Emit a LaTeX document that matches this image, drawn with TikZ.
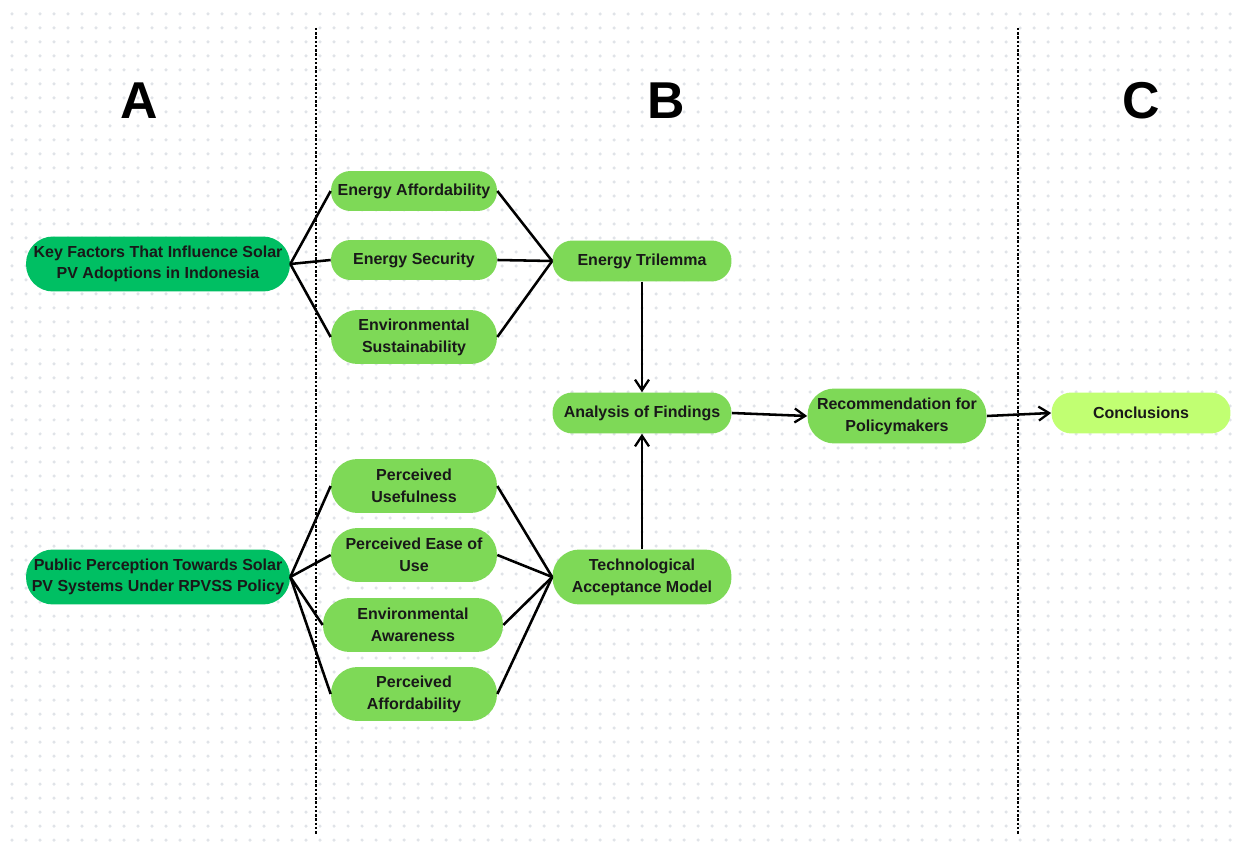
\documentclass[tikz,border=0pt]{standalone}
\usepackage{fontspec}
\setmainfont{Liberation Sans}
\usepackage{tikz}
\usetikzlibrary{arrows.meta}
\usepackage{xcolor}
\definecolor{keygreen}{HTML}{00BF63}
\definecolor{boxgreen}{HTML}{7ED957}
\definecolor{limegreen}{HTML}{C1FF72}
\definecolor{dotgray}{HTML}{E0E3E8}
\tikzset{
  pill/.style={draw=none, align=center, inner sep=0pt, text=black!90,
    font=\fontsize{9.1}{12.6}\selectfont\bfseries},
  keybox/.style={pill, fill=keygreen, minimum width=5.28cm, minimum height=1.1cm, rounded corners=0.54cm,
    font=\fontsize{9.1}{11.9}\selectfont\bfseries},
  factor/.style={pill, fill=boxgreen, minimum width=3.32cm, minimum height=0.8cm, rounded corners=0.39cm},
  factortall/.style={factor, minimum height=1.08cm, rounded corners=0.53cm},
  stagebox/.style={pill, fill=boxgreen, minimum width=3.58cm, minimum height=0.82cm, rounded corners=0.4cm},
  stagetall/.style={stagebox, minimum height=1.1cm, rounded corners=0.54cm},
  endbox/.style={stagebox, fill=limegreen},
  link/.style={line width=1.45pt, black},
  arr/.style={-{Straight Barb[length=2.1mm,width=2.8mm,line width=1.3pt]}, line width=1.45pt, black},
  divider/.style={line width=0.055cm, dash pattern=on 0.05cm off 0.035cm, black},
  colhead/.style={font=\fontsize{29.5}{30}\selectfont\bfseries}
}

\begin{document}
\begin{tikzpicture}[x=0.02cm, y=-0.02cm]
  \useasboundingbox (0,0) rectangle (1241,844);
  \fill[white] (0,0) rectangle (1241,844);
  % dotted canvas
  \foreach \i in {0,...,88}
    \foreach \j in {0,...,59}
      \fill[dotgray] (12+14*\i, 14+14*\j) circle[radius=0.035cm];

  % column dividers
  \coordinate (d1top) at (316,28);
  \coordinate (d1bot) at (316,835);
  \coordinate (d2top) at (1018,28);
  \coordinate (d2bot) at (1018,835);
  \draw[divider] (d1top) -- (d1bot);
  \draw[divider] (d2top) -- (d2bot);

  \node[colhead] (labA) at (139,101) {A};
  \node[colhead] (labB) at (666,101) {B};
  \node[colhead] (labC) at (1141,101) {C};

  % column A
  \node[keybox] (key) at (158,264) {Key Factors That Influence Solar\\PV Adoptions in Indonesia};
  \node[keybox] (pub) at (158,577) {Public Perception Towards Solar\\PV Systems Under RPVSS Policy};

  \node[factor] (ea) at (414,191) {Energy Affordability};
  \node[factor] (es) at (414,260) {Energy Security};
  \node[factortall] (env) at (414,337) {Environmental\\Sustainability};

  \node[factortall] (pu) at (414,486) {Perceived\\Usefulness};
  \node[factortall] (peou) at (414,555) {Perceived Ease of\\Use};
  \node[factortall, minimum width=3.6cm] (ena) at (413,625) {Environmental\\Awareness};
  \node[factortall] (pa) at (414,694) {Perceived\\Affordability};

  % column B
  \node[stagebox] (tri) at (642,261) {Energy Trilemma};
  \node[stagebox] (aof) at (642,413) {Analysis of Findings};
  \node[stagetall] (tam) at (642,577) {Technological\\Acceptance Model};
  \node[stagetall] (rec) at (897,416) {Recommendation for\\Policymakers};

  % column C
  \node[endbox] (conc) at (1141,413) {Conclusions};

  \foreach \f in {ea,es,env} {
    \draw[link] (key.east) -- (\f.west);
    \draw[link] (\f.east) -- (tri.west);
  }
  \foreach \f in {pu,peou,ena,pa} {
    \draw[link] (pub.east) -- (\f.west);
    \draw[link] (\f.east) -- (tam.west);
  }

  \draw[arr] (tri) -- (aof);
  \draw[arr] (tam) -- (aof);
  \draw[arr] (aof.east) -- (rec.west);
  \draw[arr] (rec.east) -- (conc.west);
\end{tikzpicture}
\end{document}
